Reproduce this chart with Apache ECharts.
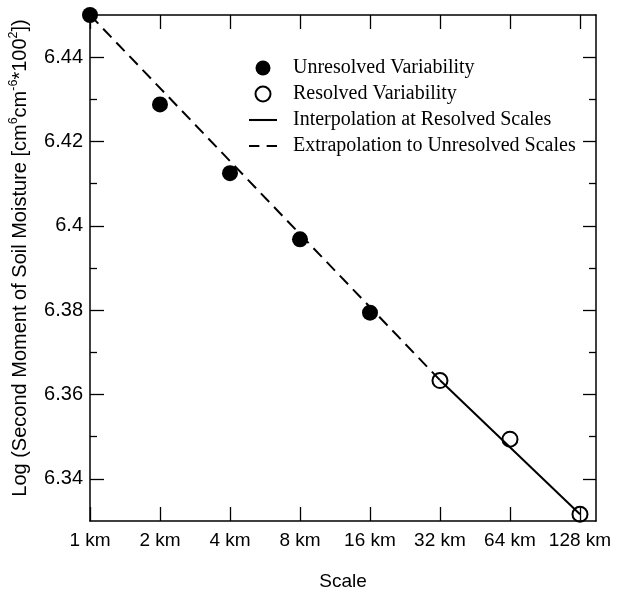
<!DOCTYPE html>
<html>
<head>
<meta charset="utf-8">
<script src="https://cdn.jsdelivr.net/npm/echarts@6/dist/echarts.min.js"></script>
<style>html,body{margin:0;padding:0;background:#fff}#c{width:625px;height:592px}</style>
</head>
<body>
<div id="c"></div>
<script>
// Data
var scalesKm = [1, 2, 4, 8, 16, 32, 64, 128];
var unresolvedScales = [1, 2, 4, 8, 16];
var unresolvedValues = [6.4500, 6.4288, 6.4125, 6.3968, 6.3794];
var resolvedScales = [32, 64, 128];
var resolvedValues = [6.3633, 6.3494, 6.3316];
var extrapScales = [1, 32];
var extrapValues = [6.4500, 6.3634];
var interpScales = [32, 128];
var interpValues = [6.3634, 6.3316];
var yMajorTicks = [6.34, 6.36, 6.38, 6.40, 6.42, 6.44];
var yMinorTicks = [6.35, 6.37, 6.39, 6.41, 6.43];
var yLabels = ['6.34', '6.36', '6.38', '6.4', '6.42', '6.44'];

function pairs(xs, ys) { return xs.map(function (x, i) { return [x, ys[i]]; }); }

var sans = 'Liberation Sans';
var serif = 'Liberation Serif';
var axisLine = { show: true, lineStyle: { color: '#000', width: 1.5 } };
var solidIcon = 'path://M0,0h27v2h-27z';
var dashIcon = 'path://M0,0h10v2h-10z M17,0h10v2h-10z';

var chart = echarts.init(document.getElementById('c'), null, { renderer: 'canvas' });
chart.setOption({
  backgroundColor: '#fff',
  animation: false,
  grid: { left: 90, right: 29, top: 15, bottom: 71, containLabel: false, outerBoundsMode: 'none' },
  legend: {
    orient: 'vertical', left: 249, top: 58, padding: 0,
    itemWidth: 28, itemHeight: 15, itemGap: 6,
    textStyle: { fontFamily: serif, fontSize: 20, color: '#000', padding: [0, 0, 0, 11], lineHeight: 18 },
    data: [
      { name: 'Unresolved Variability' },
      { name: 'Resolved Variability' },
      { name: 'Interpolation at Resolved Scales', icon: solidIcon },
      { name: 'Extrapolation to Unresolved Scales', icon: dashIcon }
    ]
  },
  xAxis: [{
    type: 'log', logBase: 2, min: 1, max: 150, position: 'bottom',
    axisLine: axisLine,
    axisTick: { show: true, inside: true, length: 14, lineStyle: { color: '#000', width: 1.3 }, customValues: scalesKm },
    axisLabel: { customValues: scalesKm, formatter: function (v) { return Math.round(v) + ' km'; }, color: '#000', fontFamily: sans, fontSize: 19, margin: 10 },
    splitLine: { show: false }, minorTick: { show: false },
    name: 'Scale', nameLocation: 'middle', nameGap: 51,
    nameTextStyle: { color: '#000', fontFamily: sans, fontSize: 19 }
  }, {
    type: 'log', logBase: 2, min: 1, max: 150, position: 'top',
    axisLine: axisLine,
    axisTick: { show: true, inside: true, length: 14, lineStyle: { color: '#000', width: 1.3 }, customValues: scalesKm },
    axisLabel: { show: false }, splitLine: { show: false }
  }],
  yAxis: [{
    type: 'value', min: 6.33, max: 6.45, position: 'left',
    axisLine: axisLine,
    axisTick: { show: true, inside: true, length: 14, lineStyle: { color: '#000', width: 1.3 }, customValues: yMajorTicks },
    axisLabel: { customValues: yMajorTicks, formatter: function (v) { var i = yMajorTicks.findIndex(function (t) { return Math.abs(t - v) < 1e-6; }); return i >= 0 ? yLabels[i] : ''; }, color: '#000', fontFamily: sans, fontSize: 20, margin: 7 },
    splitLine: { show: false },
    name: 'Log (Second Moment of Soil Moisture [cm{sup|6}cm{sup|-6}*100{sup|2}])',
    nameLocation: 'middle', nameGap: 41,
    nameTextStyle: { color: '#000', fontFamily: sans, fontSize: 20, lineHeight: 26, padding: [0, 0, 0, 20],
      rich: { sup: { fontFamily: sans, fontSize: 12.5, lineHeight: 12, verticalAlign: 'top', color: '#000' } } }
  }, {
    type: 'value', min: 6.33, max: 6.45, position: 'left',
    axisLine: { show: false },
    axisTick: { show: true, inside: true, length: 7, lineStyle: { color: '#000', width: 1.3 }, customValues: yMinorTicks },
    axisLabel: { show: false }, splitLine: { show: false }
  }, {
    type: 'value', min: 6.33, max: 6.45, position: 'right',
    axisLine: axisLine,
    axisTick: { show: true, inside: true, length: 13, lineStyle: { color: '#000', width: 1.3 }, customValues: yMajorTicks },
    axisLabel: { show: false }, splitLine: { show: false }
  }, {
    type: 'value', min: 6.33, max: 6.45, position: 'right',
    axisLine: { show: false },
    axisTick: { show: true, inside: true, length: 7, lineStyle: { color: '#000', width: 1.3 }, customValues: yMinorTicks },
    axisLabel: { show: false }, splitLine: { show: false }
  }],
  series: [{
    name: 'Extrapolation to Unresolved Scales', type: 'line', xAxisIndex: 0, yAxisIndex: 0,
    data: pairs(extrapScales, extrapValues), symbol: 'none',
    lineStyle: { color: '#000', width: 2, type: [12, 7] }, itemStyle: { color: '#000' }, z: 2
  }, {
    name: 'Interpolation at Resolved Scales', type: 'line', xAxisIndex: 0, yAxisIndex: 0,
    data: pairs(interpScales, interpValues), symbol: 'none',
    lineStyle: { color: '#000', width: 2 }, itemStyle: { color: '#000' }, z: 2
  }, {
    name: 'Unresolved Variability', type: 'scatter', xAxisIndex: 0, yAxisIndex: 0,
    data: pairs(unresolvedScales, unresolvedValues), symbol: 'circle', symbolSize: 16, clip: false,
    itemStyle: { color: '#000', opacity: 1 }, z: 3
  }, {
    name: 'Resolved Variability', type: 'scatter', xAxisIndex: 0, yAxisIndex: 0,
    data: pairs(resolvedScales, resolvedValues), symbol: 'circle', symbolSize: 15, clip: false,
    itemStyle: { color: 'rgba(0,0,0,0)', borderColor: '#000', borderWidth: 2, opacity: 1 }, z: 3
  }]
});
</script>
</body>
</html>
